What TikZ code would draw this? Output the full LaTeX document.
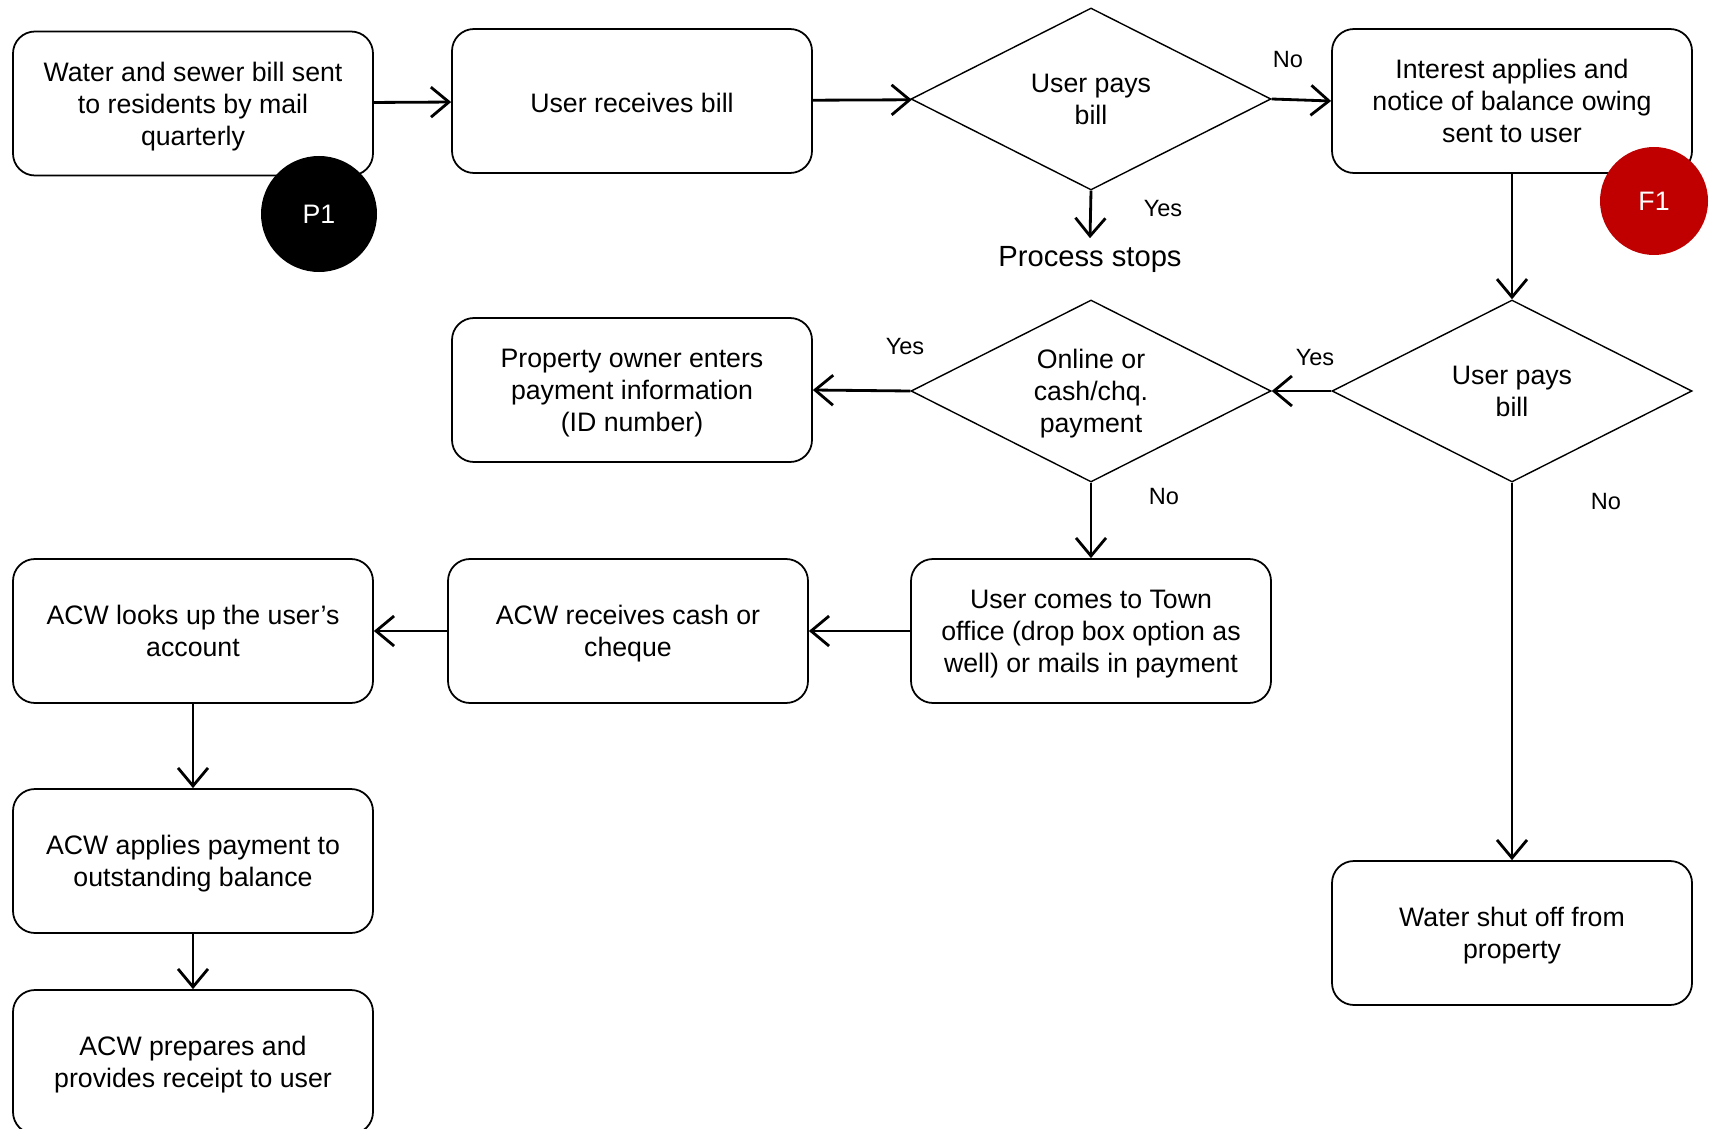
\documentclass[tikz,border=0pt]{standalone}
\usepackage{fontspec}
\setmainfont{Liberation Sans}
\usetikzlibrary{shapes.geometric, arrows.meta, positioning}
\definecolor{flagred}{RGB}{192,0,0}
\tikzset{
  txt/.style={font=\fontsize{7.6}{9.1}\selectfont},
  stepbox/.style={draw, line width=0.5pt, rounded corners=0.22cm, minimum width=3.6cm, minimum height=1.44cm, align=center, txt, text depth=-0.6pt, execute at begin node={\rule{0pt}{6.6pt}}},
  decide/.style={draw, diamond, aspect=2, line width=0.4pt, minimum width=3.6cm, minimum height=1.82cm, inner sep=0pt, align=center, txt, text depth=-0.4pt},
  flag/.style={circle, fill=#1, text=white, inner sep=0pt, txt},
  lab/.style={font=\fontsize{6.7}{8}\selectfont},
}
\begin{document}
\begin{tikzpicture}[>={Straight Barb[length=0.18cm,width=0.3cm]}]
\useasboundingbox (0,0) rectangle (17.09,-11.29);
% boxes and decisions
\node[stepbox] (mail) at (1.93,-1.035) {Water and sewer bill sent\\to residents by mail\\quarterly};
\node[stepbox] (recv) at (6.32,-1.01) {User receives bill};
\node[decide] (pays) at (10.91,-0.99) {User pays\\bill};
\node[stepbox] (interest) at (15.12,-1.01) {Interest applies and\\notice of balance owing\\sent to user};
\node[font=\fontsize{8.3}{10}\selectfont, inner sep=2pt] (stop) at (10.9,-2.59) {Process stops};
\node[decide] (paysagain) at (15.12,-3.91) {User pays\\bill};
\node[decide] (how) at (10.91,-3.91) {Online or\\cash/chq.\\payment};
\node[stepbox] (online) at (6.32,-3.90) {Property owner enters\\payment information\\(ID number)};
\node[stepbox] (office) at (10.91,-6.31) {User comes to Town\\office (drop box option as\\well) or mails in payment};
\node[stepbox] (cash) at (6.28,-6.31) {ACW receives cash or\\cheque};
\node[stepbox] (lookup) at (1.93,-6.31) {ACW looks up the user’s\\account};
\node[stepbox] (apply) at (1.93,-8.61) {ACW applies payment to\\outstanding balance};
\node[stepbox] (shutoff) at (15.12,-9.33) {Water shut off from\\property};
\node[stepbox] (receipt) at (1.93,-10.62) {ACW prepares and\\provides receipt to user};
% markers
\node[flag=black, minimum size=1.16cm] (p1) at (3.19,-2.14) {P1};
\node[flag=flagred, minimum size=1.08cm] (f1) at (16.54,-2.01) {F1};
% connectors
\draw[->, line width=0.8pt] (mail) -- (recv);
\draw[->, line width=0.8pt] (recv) -- (pays);
\draw[->, line width=0.8pt] (pays.east) -- (interest.west);
\draw[->, line width=0.8pt] (pays.south) -- (stop.north);
\draw[->, line width=0.8pt] (interest) -- (paysagain);
\draw[->, line width=0.8pt] (paysagain.west) -- (how.east);
\draw[->, line width=0.8pt] (how.west) -- (online.east);
\draw[->, line width=0.8pt] (how.south) -- (office.north);
\draw[->, line width=0.8pt] (paysagain.south) -- (shutoff.north);
\draw[->, line width=0.8pt] (office) -- (cash);
\draw[->, line width=0.8pt] (cash) -- (lookup);
\draw[->, line width=0.8pt] (lookup) -- (apply);
\draw[->, line width=0.8pt] (apply) -- (receipt);
% labels
\node[lab] (yes1) at (11.63,-2.09) {Yes};
\node[lab] (no1) at (12.88,-0.60) {No};
\node[lab] (yes2) at (13.15,-3.58) {Yes};
\node[lab] (yes3) at (9.05,-3.47) {Yes};
\node[lab] (no2) at (11.64,-4.97) {No};
\node[lab] (no3) at (16.06,-5.02) {No};
\end{tikzpicture}
\end{document}
